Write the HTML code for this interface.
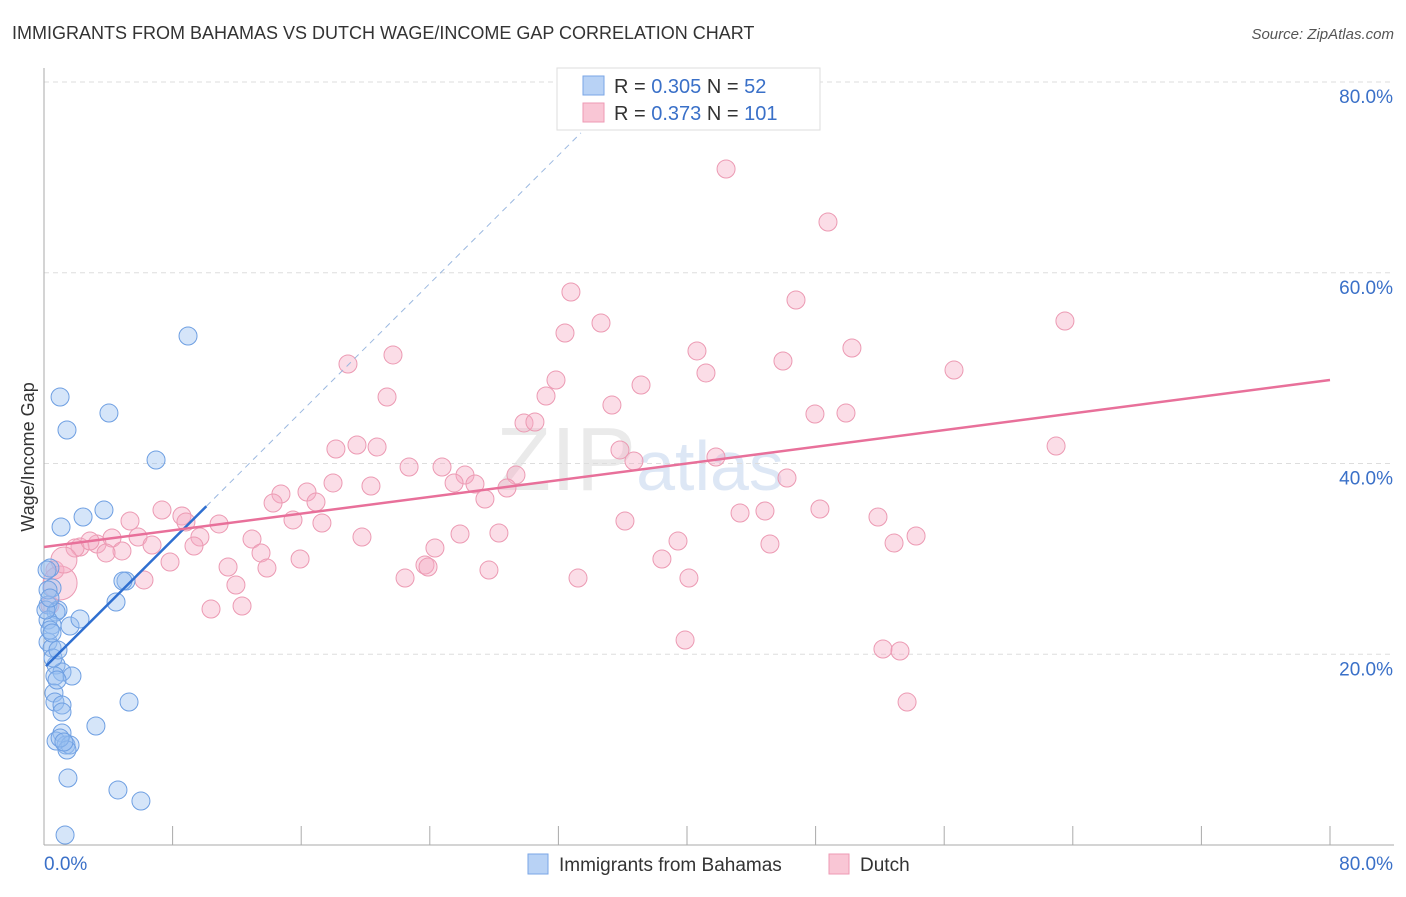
<!DOCTYPE html>
<html><head><meta charset="utf-8"><style>
body{margin:0;background:#fff;font-family:"Liberation Sans",sans-serif}
svg text{font-family:"Liberation Sans",sans-serif}
</style></head><body>
<svg id="c" width="1406" height="892" xmlns="http://www.w3.org/2000/svg">
<text x="12" y="39" font-size="18" fill="#333">IMMIGRANTS FROM BAHAMAS VS DUTCH WAGE/INCOME GAP CORRELATION CHART</text>
<text x="1394" y="39" font-size="15" fill="#555" font-style="italic" text-anchor="end">Source: ZipAtlas.com</text>
<text transform="translate(34,457) rotate(-90)" font-size="18" fill="#333" text-anchor="middle">Wage/Income Gap</text>
<text x="640" y="490" font-size="90" fill="#ddd" font-family="Liberation Serif" text-anchor="middle" opacity="0.6">ZIP<tspan fill="#c8d8f0" font-family="Liberation Sans" font-size="70">atlas</tspan></text>
<g id="grid"></g><g id="marks"></g><g id="lines"></g>
<g>
<rect x="557" y="68" width="263" height="62" fill="#fff" stroke="#ddd"/>
<rect x="583" y="76" width="21" height="19" fill="#b8d2f5" stroke="#7aa6e6"/>
<rect x="583" y="103" width="21" height="19" fill="#f9c6d5" stroke="#ee9ab4"/>
<text x="614" y="93" font-size="20" fill="#333">R = <tspan fill="#3a70c8">0.305</tspan>   N = <tspan fill="#3a70c8"> 52</tspan></text>
<text x="614" y="120" font-size="20" fill="#333">R = <tspan fill="#3a70c8"> 0.373</tspan>   N = <tspan fill="#3a70c8">101</tspan></text>
</g>
<g>
<rect x="528" y="854" width="20" height="20" fill="#b8d2f5" stroke="#7aa6e6"/>
<text x="559" y="871" font-size="19" fill="#333">Immigrants from Bahamas</text>
<rect x="829" y="854" width="20" height="20" fill="#f9c6d5" stroke="#ee9ab4"/>
<text x="860" y="871" font-size="19" fill="#333">Dutch</text>
</g>
</svg>
<script>
const yTicks=[20,40,60,80];
const yTickLabels=["20.0%","40.0%","60.0%","80.0%"];
const xTicks=[0,8,16,24,32,40,48,56,64,72,80];
const blueX=[8.96,1.0,1.43,4.04,6.97,3.73,2.43,1.06,0.37,5.1,4.91,4.48,0.5,0.25,0.87,0.75,0.25,0.5,1.62,2.24,0.25,0.5,0.75,1.12,1.74,0.68,0.62,0.68,1.12,1.12,5.29,3.23,1.12,0.75,1.37,1.62,1.43,1.49,4.6,6.03,1.31,0.37,0.12,0.25,0.56,0.81,1.0,0.37,0.19,0.5,0.87,1.24];
const blueY=[53.37,46.97,43.51,45.29,40.37,35.12,34.39,33.34,29.04,27.68,27.68,25.48,26.95,25.16,24.64,24.43,23.59,23.07,22.96,23.7,21.28,20.66,18.87,18.14,17.72,17.72,15.94,14.99,14.68,13.94,14.99,12.48,11.74,10.9,10.48,10.48,9.96,7.02,5.77,4.61,1.05,22.54,24.64,26.74,19.61,17.3,11.22,25.9,28.83,22.23,20.45,10.8];
const pinkX=[42.43,48.77,32.78,46.78,34.65,63.51,32.41,50.26,40.62,21.71,45.97,18.91,41.18,56.61,31.85,37.14,21.34,31.23,35.33,47.96,49.89,29.86,30.54,19.47,20.72,18.16,35.83,62.96,41.8,36.7,22.71,24.76,26.19,46.22,25.51,26.81,29.36,28.8,17.98,20.34,14.74,16.36,16.92,14.25,27.43,7.34,8.58,8.83,10.89,15.49,17.29,5.35,43.3,44.85,48.27,51.88,36.14,25.88,28.3,19.78,12.94,9.7,5.85,4.23,3.3,2.24,4.85,3.86,6.72,9.33,54.25,39.44,52.88,45.16,24.32,13.5,15.93,38.44,7.84,11.45,13.87,23.7,23.89,22.46,27.68,33.22,40.12,6.22,11.94,12.32,10.39,39.88,52.19,53.25,53.69,1.93,0.37,0.68,2.86];
const pinkY=[70.88,65.32,57.98,57.14,54.73,54.94,53.68,52.11,51.8,51.38,50.75,50.43,49.49,49.8,48.75,48.23,46.97,47.08,46.13,45.19,45.29,44.25,44.35,41.94,41.73,41.52,41.42,41.83,40.68,40.26,39.63,39.63,38.79,38.48,37.96,37.85,38.79,37.43,37.96,37.64,36.8,37.01,35.96,35.86,36.28,35.12,34.5,33.87,33.66,34.08,33.76,33.97,34.81,35.02,35.23,34.39,33.97,32.61,32.71,32.29,32.08,32.29,32.29,32.19,31.56,31.24,30.83,30.62,31.45,31.35,32.4,31.87,31.66,31.56,31.14,30.62,29.99,29.99,29.67,29.15,29.04,29.36,29.15,27.99,28.83,27.99,27.99,27.79,27.26,25.06,24.74,21.49,20.55,20.34,14.99,31.14,25.16,28.83,31.87];
const pinkBigX=[1.0,1.24];
const pinkBigY=[27.47,29.88];
const pinkBigR=[17,13];
const blueFit=[18.55,1.68];
const pinkFit=[31.24,0.219];
const X=v=>44+v*16.075, Y=v=>845-v*9.5375;
const NS="http://www.w3.org/2000/svg";
function mk(tag,attrs,parent){const e=document.createElementNS(NS,tag);for(const k in attrs)e.setAttribute(k,attrs[k]);parent.appendChild(e);return e;}
const grid=document.getElementById('grid'),marks=document.getElementById('marks'),lines=document.getElementById('lines');
yTicks.forEach((t,i)=>{
 const l=mk('line',{x1:44,x2:1394,y1:Y(t),y2:Y(t),stroke:'#ddd','stroke-dasharray':'5,4'},grid);
 
 
 const tx=mk('text',{x:1393,y:Y(t)+21,'font-size':19,fill:'#3a70c8','text-anchor':'end'},grid);
 tx.textContent=yTickLabels[i];
 
 
});
const ax=mk('line',{x1:44,x2:44,y1:68,y2:845,stroke:'#aaa'},grid);


const bx=mk('line',{x1:44,x2:1394,y1:845,y2:845,stroke:'#aaa'},grid);


xTicks.forEach(t=>{
 const l=mk('line',{x1:X(t),x2:X(t),y1:826,y2:845,stroke:'#aaa'},grid);
 
 
});
[[0,"0.0%","start",44],[80,"80.0%","end",1393]].forEach(a=>{
 const tx=mk('text',{x:a[3],y:870,'font-size':19,fill:'#3a70c8','text-anchor':a[2]},grid);
 tx.textContent=a[1];
 
 
});
pinkX.forEach((v,i)=>{
 const c=mk('circle',{cx:X(v),cy:Y(pinkY[i]),r:9,fill:'rgba(246,170,194,0.4)',stroke:'#ec9ab3','stroke-width':1},marks);
 
 
});
pinkBigX.forEach((v,i)=>{
 const c=mk('circle',{cx:X(v),cy:Y(pinkBigY[i]),r:pinkBigR[i],fill:'rgba(246,170,194,0.4)',stroke:'#ec9ab3'},marks);
 
 
});
blueX.forEach((v,i)=>{
 const c=mk('circle',{cx:X(v),cy:Y(blueY[i]),r:9,fill:'rgba(150,190,240,0.4)',stroke:'#6e9fe2','stroke-width':1},marks);
 
 
});
let l=mk('line',{x1:X(0.12),y1:Y(blueFit[0]+blueFit[1]*0.12),x2:X(10.1),y2:Y(blueFit[0]+blueFit[1]*10.1),stroke:'#2f6fd0','stroke-width':2.5},lines);


l=mk('line',{x1:X(10.1),y1:Y(blueFit[0]+blueFit[1]*10.1),x2:X(33.4),y2:Y(blueFit[0]+blueFit[1]*33.4),stroke:'#9bb8e0','stroke-width':1,'stroke-dasharray':'6,5'},lines);


l=mk('line',{x1:X(0),y1:Y(pinkFit[0]),x2:X(80),y2:Y(pinkFit[0]+pinkFit[1]*80),stroke:'#e8709a','stroke-width':2.5},lines);


</script>
</body></html>
